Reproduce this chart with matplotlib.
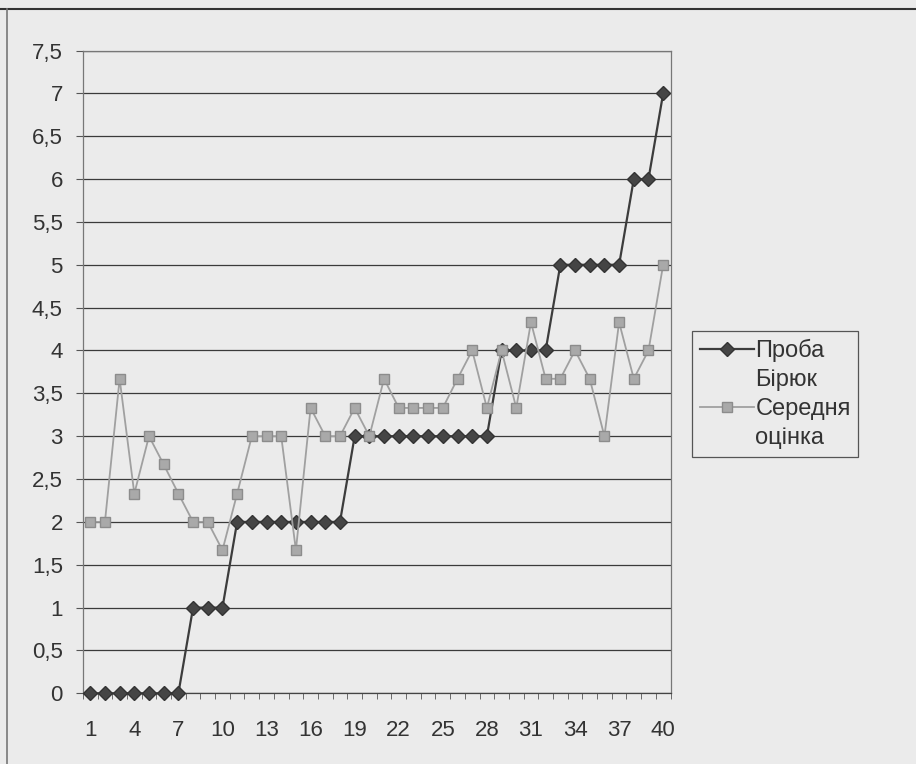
import numpy as np
import matplotlib.pyplot as plt
from matplotlib.lines import Line2D

# data
trial = np.arange(1, 41)
proba_biryuk = [0, 0, 0, 0, 0, 0, 0, 1, 1, 1,
                2, 2, 2, 2, 2, 2, 2, 2, 3, 3,
                3, 3, 3, 3, 3, 3, 3, 3, 4, 4,
                4, 4, 5, 5, 5, 5, 5, 6, 6, 7]
serednya = [2, 2, 3.67, 2.33, 3, 2.67, 2.33, 2, 2, 1.67,
            2.33, 3, 3, 3, 1.67, 3.33, 3, 3, 3.33, 3,
            3.67, 3.33, 3.33, 3.33, 3.33, 3.67, 4, 3.33, 4, 3.33,
            4.33, 3.67, 3.67, 4, 3.67, 3, 4.33, 3.67, 4, 5]
y_ticks = np.arange(0, 7.51, 0.5)
x_labels = np.arange(1, 41, 3)

bg = '#ebebeb'
plt.rcParams['font.family'] = ['Liberation Sans', 'DejaVu Sans']

fig = plt.figure(figsize=(9.16, 7.64), dpi=100, facecolor=bg)
ax = fig.add_axes([0.0905, 0.0925, 0.6415, 0.8414])
ax.set_facecolor(bg)

# scan frame edges
fig.add_artist(Line2D([0, 1], [1 - 9 / 764] * 2, color='#333333', lw=1.5))
fig.add_artist(Line2D([7 / 916] * 2, [0, 1 - 9 / 764], color='#777777', lw=1.2))

line1, = ax.plot(trial, proba_biryuk, color='#3c3c3c', lw=1.6, marker='D', ms=7.5,
                 mfc='#454545', mec='#333333', clip_on=False, zorder=3)
line2, = ax.plot(trial, serednya, color='#a0a0a0', lw=1.3, marker='s', ms=7.5,
                 mfc='#a9a9a9', mec='#8c8c8c', clip_on=False, zorder=4)

ax.set_xlim(0.5, 40.5)
ax.set_ylim(0, 7.5)
ax.set_yticks(y_ticks)
ax.set_yticklabels([('%g' % v).replace('.', ',') for v in y_ticks])
ax.yaxis.grid(True, color='#3a3a3a', lw=0.9)
ax.set_axisbelow(True)

ax.set_xticks(x_labels)
ax.set_xticks(np.arange(0.5, 41, 1), minor=True)
ax.tick_params(axis='x', which='major', length=0, pad=19, labelsize=16, colors='#333333')
ax.tick_params(axis='x', which='minor', length=4.5, color='#555555', direction='out')
ax.tick_params(axis='y', length=5, pad=9.5, labelsize=16, colors='#333333', color='#555555')

for s in ax.spines.values():
    s.set_color('#777777')
    s.set_linewidth(0.9)
ax.spines['bottom'].set_color('#444444')

blank = Line2D([], [], color='none')
leg = fig.legend([line1, blank, line2, blank], ['Проба', 'Бірюк', 'Середня', 'оцінка'],
                 loc='upper left', bbox_to_anchor=(692 / 916, 1 - 331 / 764),
                 fontsize=17, frameon=True, fancybox=False, edgecolor='#555555',
                 facecolor=bg, framealpha=1, labelspacing=0.3, handlelength=2.3,
                 handletextpad=0.05, borderpad=0.33, borderaxespad=0)
leg.get_frame().set_linewidth(0.9)
for t in leg.get_texts():
    t.set_color('#333333')

fig.savefig('out.png', dpi=100, facecolor=bg)
